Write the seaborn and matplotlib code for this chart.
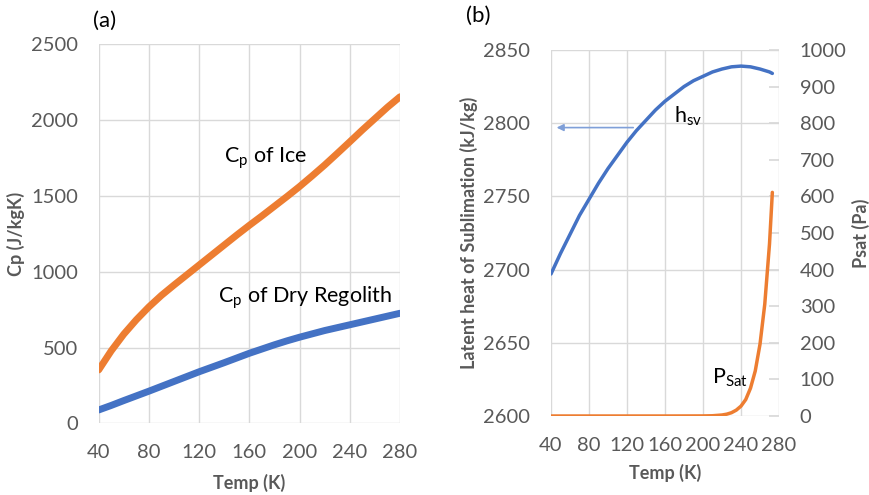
import numpy as np
import pandas as pd
import matplotlib
matplotlib.use("Agg")
import matplotlib.pyplot as plt
import seaborn as sns

# ---- data ----
temp_a = [40, 50, 60, 70, 80, 90, 100, 110, 120, 130, 140, 150, 160,
          170, 180, 190, 200, 210, 220, 230, 240, 250, 260, 270, 280]
cp_ice = [352, 478, 588, 683, 768, 844, 912, 978, 1044, 1110, 1176, 1242, 1306,
          1368, 1432, 1496, 1562, 1632, 1704, 1780, 1857, 1935, 2010, 2085, 2154]
cp_regolith = [88, 118, 150, 181, 212, 244, 276, 308, 340, 370, 400, 431, 462,
               490, 518, 544, 568, 590, 612, 631, 650, 669, 688, 707, 726]

temp_h = [40, 50, 60, 70, 80, 90, 100, 110, 120, 130, 140, 150, 160,
          170, 180, 190, 200, 210, 220, 230, 240, 250, 260, 270, 273]
h_sv = [2697, 2711, 2724, 2737, 2748, 2759, 2769, 2778, 2787, 2795, 2802, 2809, 2815,
        2820, 2825, 2829, 2832, 2835, 2837, 2838.5, 2839, 2838.5, 2837, 2835, 2834]

temp_p = [40, 100, 160, 200, 210, 220, 225, 230, 235, 240, 245, 250, 255, 260, 265, 270, 273]
p_sat = [0, 0, 0, 0.2, 0.7, 2.7, 5, 9, 16, 27, 45, 76, 123, 196, 305, 470, 611]

xticks = [40, 80, 120, 160, 200, 240, 280]
yticks_a = [0, 500, 1000, 1500, 2000, 2500]
yticks_h = [2600, 2650, 2700, 2750, 2800, 2850]
yticks_p = [0, 100, 200, 300, 400, 500, 600, 700, 800, 900, 1000]

ORANGE = "#ED7D31"
BLUE = "#4472C4"
GRAY = "#595959"
GRID = "#D9D9D9"

sns.set_theme(style="white")
plt.rcParams["font.family"] = ["Lato", "DejaVu Sans"]

fig = plt.figure(figsize=(8.7, 4.95), dpi=100)
axA = fig.add_axes([0.1134, 0.1448, 0.3464, 0.7657])
axB = fig.add_axes([0.6333, 0.1596, 0.2621, 0.7394])
axP = axB.twinx()

df_a = pd.DataFrame({"T": temp_a, "ice": cp_ice, "reg": cp_regolith})
sns.lineplot(data=df_a, x="T", y="ice", ax=axA, color=ORANGE, lw=5, solid_capstyle="round")
sns.lineplot(data=df_a, x="T", y="reg", ax=axA, color=BLUE, lw=5, solid_capstyle="round")

df_h = pd.DataFrame({"T": temp_h, "h": h_sv})
df_p = pd.DataFrame({"T": temp_p, "p": p_sat})
sns.lineplot(data=df_h, x="T", y="h", ax=axB, color=BLUE, lw=2.5)
sns.lineplot(data=df_p, x="T", y="p", ax=axP, color=ORANGE, lw=2.5)

TICK_FS = 14.5
LAB_FS = 13

def style(ax, yt, ylim):
    ax.set_xlim(40, 280)
    ax.set_ylim(*ylim)
    ax.set_xticks(xticks)
    ax.set_yticks(yt)
    ax.grid(True, color=GRID, lw=1)
    for s in ax.spines.values():
        s.set_visible(False)
    ax.tick_params(axis="both", length=0, labelsize=TICK_FS, labelcolor=GRAY, pad=15)

style(axA, yticks_a, (0, 2500))
axA.set_xlabel("Temp (K)", fontsize=LAB_FS, fontweight="bold", color=GRAY, labelpad=9)
axA.set_ylabel("Cp (J/kgK)", fontsize=LAB_FS, fontweight="bold", color=GRAY, labelpad=4)

style(axB, yticks_h, (2600, 2850))
axB.set_xlabel("Temp (K)", fontsize=LAB_FS, fontweight="bold", color=GRAY, labelpad=7)
axB.set_ylabel("Latent heat of Sublimation (kJ/kg)", fontsize=LAB_FS, fontweight="bold",
               color=GRAY, labelpad=4)

axP.set_ylim(0, 1000)
axP.set_yticks(yticks_p)
axP.grid(False)
for s in axP.spines.values():
    s.set_visible(False)
axP.tick_params(axis="y", direction="in", length=7, color=GRID, labelsize=TICK_FS,
                labelcolor=GRAY, pad=15)
axP.set_ylabel("Psat (Pa)", fontsize=LAB_FS, fontweight="bold", color=GRAY, labelpad=4)

# annotations
ANN_FS = 15.5
axA.text(0.555, 0.70, r"C$_\mathregular{p}$ of Ice", transform=axA.transAxes,
         fontsize=ANN_FS, color="black", ha="center", va="center")
axA.text(0.685, 0.333, r"C$_\mathregular{p}$ of Dry Regolith", transform=axA.transAxes,
         fontsize=ANN_FS, color="black", ha="center", va="center")
axB.text(0.60, 0.82, r"h$_\mathregular{sv}$", transform=axB.transAxes,
         fontsize=ANN_FS, color="black", ha="center", va="center")
axB.text(0.785, 0.104, r"P$_\mathregular{Sat}$", transform=axB.transAxes,
         fontsize=ANN_FS, color="black", ha="center", va="center")
axB.annotate("", xy=(43, 2797), xytext=(129.5, 2797),
             arrowprops=dict(arrowstyle="-|>", color="#7F9FD8", lw=1.2,
                             mutation_scale=10))

fig.text(0.107, 0.958, "(a)", fontsize=16, color="black", ha="left", va="center")
fig.text(0.5356, 0.968, "(b)", fontsize=16, color="black", ha="left", va="center")

fig.savefig("out.png", dpi=100)
